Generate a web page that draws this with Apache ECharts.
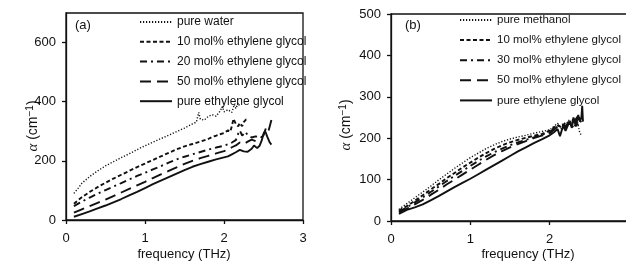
<!DOCTYPE html>
<html>
<head>
<meta charset="utf-8">
<script src="https://cdn.jsdelivr.net/npm/echarts@6/dist/echarts.min.js"></script>
<style>
  html, body { margin: 0; padding: 0; background: #fff; }
  #chart { width: 626px; height: 263px; }
</style>
</head>
<body>
<div id="chart"></div>
<script>
// frequency (THz) / alpha (cm^-1) pairs
const waterA = [[0.10,90],[0.15,106],[0.2,124],[0.3,147],[0.4,166],[0.5,183],[0.6,197],[0.7,211],[0.8,224],[0.9,238],[1.0,251],[1.1,263],[1.2,275],[1.3,287],[1.4,299],[1.5,311],[1.55,318],[1.6,325],[1.65,331],[1.68,364],[1.7,341],[1.75,338],[1.8,350],[1.85,356],[1.9,351],[1.95,368],[1.98,384],[2.0,366],[2.05,373],[2.1,364],[2.13,391],[2.15,377],[2.18,396],[2.2,384]];
const tenA = [[0.1,55],[0.15,66],[0.2,77],[0.3,95],[0.4,111],[0.5,126],[0.6,140],[0.7,153],[0.8,166],[0.9,179],[1.0,191],[1.1,203],[1.2,215],[1.3,227],[1.4,239],[1.5,249],[1.6,257],[1.7,265],[1.8,274],[1.85,281],[1.9,285],[1.95,290],[2.0,294],[2.05,303],[2.08,299],[2.1,318],[2.12,342],[2.15,325],[2.18,317],[2.2,328],[2.23,317],[2.25,331],[2.28,340],[2.3,336]];
const twentyA = [[0.1,47],[0.2,62],[0.3,76],[0.4,89],[0.5,101],[0.6,113],[0.7,125],[0.8,137],[0.9,149],[1.0,160],[1.1,171],[1.2,182],[1.3,194],[1.4,205],[1.5,214],[1.6,222],[1.7,230],[1.8,238],[1.9,245],[2.0,251],[2.05,256],[2.1,262],[2.15,270],[2.18,292],[2.2,303],[2.23,285],[2.27,298],[2.3,287],[2.35,279],[2.4,283],[2.45,280]];
const fiftyA = [[0.1,25],[0.2,36],[0.3,47],[0.4,58],[0.5,69],[0.6,81],[0.7,93],[0.8,105],[0.9,117],[1.0,129],[1.1,142],[1.2,154],[1.3,166],[1.4,178],[1.5,190],[1.6,200],[1.7,209],[1.8,217],[1.9,225],[2.0,233],[2.05,238],[2.1,246],[2.15,252],[2.2,262],[2.25,257],[2.3,265],[2.35,272],[2.4,267],[2.45,275],[2.5,286],[2.53,310],[2.56,298],[2.6,338]];
const egA = [[0.1,11],[0.2,20],[0.3,29],[0.4,39],[0.5,49],[0.6,60],[0.7,71],[0.8,83],[0.9,95],[1.0,108],[1.1,121],[1.2,133],[1.3,145],[1.4,157],[1.5,169],[1.6,180],[1.7,189],[1.8,197],[1.9,205],[2.0,212],[2.05,215],[2.1,222],[2.15,229],[2.2,237],[2.25,232],[2.3,231],[2.35,241],[2.38,252],[2.42,243],[2.45,251],[2.48,271],[2.5,292],[2.52,301],[2.55,280],[2.58,262],[2.6,255]];

const methanolB = [[0.1,28],[0.2,42],[0.3,56],[0.4,70],[0.5,84],[0.6,99],[0.7,113],[0.8,127],[0.9,140],[1.0,153],[1.1,164],[1.2,175],[1.3,184],[1.4,192],[1.5,198],[1.6,203],[1.7,207],[1.8,212],[1.9,216],[2.0,220],[2.05,228],[2.1,236],[2.15,222],[2.2,232],[2.25,245],[2.3,226],[2.35,240],[2.38,212],[2.4,208]];
const tenB = [[0.1,25],[0.2,36],[0.3,49],[0.4,62],[0.5,76],[0.6,89],[0.7,103],[0.8,116],[0.9,129],[1.0,141],[1.1,153],[1.2,164],[1.3,174],[1.4,183],[1.5,190],[1.6,196],[1.7,201],[1.8,206],[1.9,210],[2.0,218],[2.05,225],[2.1,232],[2.15,226],[2.2,238],[2.25,234],[2.3,246],[2.35,232],[2.4,242]];
const thirtyB = [[0.1,23],[0.2,33],[0.3,45],[0.4,57],[0.5,70],[0.6,83],[0.7,96],[0.8,109],[0.9,121],[1.0,133],[1.1,145],[1.2,156],[1.3,166],[1.4,175],[1.5,183],[1.6,190],[1.7,196],[1.8,202],[1.9,208],[2.0,215],[2.05,222],[2.1,229],[2.15,236],[2.2,228],[2.25,240],[2.3,235],[2.35,248],[2.4,238]];
const fiftyB = [[0.1,21],[0.2,30],[0.3,40],[0.4,51],[0.5,63],[0.6,75],[0.7,88],[0.8,100],[0.9,112],[1.0,124],[1.1,136],[1.2,148],[1.3,159],[1.4,169],[1.5,178],[1.6,186],[1.7,193],[1.8,200],[1.9,206],[2.0,212],[2.05,220],[2.1,228],[2.15,234],[2.2,226],[2.25,244],[2.3,238],[2.35,252],[2.4,245]];
const egB = [[0.1,17],[0.15,22],[0.2,27],[0.3,33],[0.4,40],[0.5,50],[0.6,60],[0.7,71],[0.8,82],[0.9,92],[1.0,102],[1.1,113],[1.2,124],[1.3,135],[1.4,146],[1.5,157],[1.6,168],[1.7,178],[1.8,188],[1.9,197],[2.0,207],[2.05,214],[2.1,222],[2.13,205],[2.17,230],[2.2,218],[2.25,240],[2.28,225],[2.3,250],[2.33,228],[2.36,256],[2.38,240],[2.4,250],[2.41,278],[2.42,240]];

const namesA = ['pure water', '10 mol% ethylene glycol', '20 mol% ethylene glycol', '50 mol% ethylene glycol', 'pure ethylene glycol'];
const namesB = ['pure methanol', '10 mol% ethylene glycol', '30 mol% ethylene glycol', '50 mol% ethylene glycol', 'pure ethylene glycol'];
const freqTicks = [0, 1, 2, 3];

const ink = '#111';
const font = 'Liberation Sans, Arial, sans-serif';

// dash patterns: dotted, short dash, dash-dot, long dash, solid
const dashes = [[1.2, 1.8], [4, 2.5], [7, 4, 2, 4], [11, 6], 'solid'];
const widths = [1.4, 1.9, 1.9, 1.9, 1.9];

function line(name, data, i, idx) {
  return {
    name: name,
    type: 'line',
    xAxisIndex: idx,
    yAxisIndex: idx,
    data: data,
    symbol: 'none',
    lineStyle: { color: ink, width: widths[i], type: dashes[i] },
    itemStyle: { color: ink },
    z: 3
  };
}

function xAxis(idx) {
  return {
    type: 'value', gridIndex: idx, min: 0, max: 3, interval: 1,
    axisLine: { lineStyle: { color: ink, width: 1.3 } },
    axisTick: { show: true, inside: false, length: 4, lineStyle: { color: ink, width: 1.3 } },
    axisLabel: { color: ink, fontSize: 13, fontFamily: font, margin: 12,
      formatter: v => freqTicks.indexOf(v) >= 0 ? String(v) : '' },
    splitLine: { show: false }
  };
}

function yAxis(idx, max, step) {
  return {
    type: 'value', gridIndex: idx, min: 0, max: max, interval: step,
    axisLine: { show: true, lineStyle: { color: ink, width: 1.3 } },
    axisTick: { show: true, inside: false, length: 4, lineStyle: { color: ink, width: 1.3 } },
    axisLabel: { color: ink, fontSize: 13, fontFamily: font, margin: 10, showMaxLabel: max % step === 0 },
    splitLine: { show: false }
  };
}

function legend(names, left, top, gap, size) {
  return {
    orient: 'vertical', left: left, top: top, padding: 0,
    data: names, itemWidth: 32, itemHeight: 12, itemGap: gap,
    selectedMode: false,
    itemStyle: { opacity: 0 },
    textStyle: { color: ink, fontSize: size, fontFamily: font }
  };
}

function alphaName(x, y) {
  return {
    type: 'text', x: x, y: y, rotation: Math.PI / 2,
    style: {
      text: '{i|α} (cm{s|−1})', fill: ink, fontSize: 14, fontFamily: font,
      align: 'center', verticalAlign: 'middle',
      rich: {
        i: { fontSize: 15, fontStyle: 'italic', fontFamily: 'Liberation Serif, serif', fill: ink },
        s: { fontSize: 10, verticalAlign: 'top', fill: ink, fontFamily: font }
      }
    }
  };
}

function freqName(x, y) {
  return {
    type: 'text', x: x, y: y,
    style: { text: 'frequency (THz)', fill: ink, fontSize: 13, fontFamily: font, align: 'center', verticalAlign: 'middle' }
  };
}

const seriesA = [waterA, tenA, twentyA, fiftyA, egA];
const seriesB = [methanolB, tenB, thirtyB, fiftyB, egB];

const chart = echarts.init(document.getElementById('chart'), null, { renderer: 'canvas' });

const option = {
  animation: false,
  backgroundColor: '#fff',
  textStyle: { fontFamily: font },
  grid: [
    { left: 66, top: 13, right: 323, bottom: 43, outerBoundsMode: 'none', containLabel: false,
      show: true, borderColor: ink, borderWidth: 1.3, backgroundColor: 'transparent' },
    { left: 391, top: 14, right: -3, bottom: 42, outerBoundsMode: 'none', containLabel: false,
      show: true, borderColor: ink, borderWidth: 1.3, backgroundColor: 'transparent' }
  ],
  xAxis: [xAxis(0), xAxis(1)],
  yAxis: [yAxis(0, 700, 200), yAxis(1, 500, 100)],
  legend: [legend(namesA, 139, 16, 7.8, 12), legend(namesB, 459, 14, 8.1, 11.5)],
  graphic: [
    { type: 'text', left: 75, top: 19, style: { text: '(a)', fill: ink, font: '13px ' + font } },
    { type: 'text', left: 405, top: 19, style: { text: '(b)', fill: ink, font: '13px ' + font } },
    alphaName(33, 126),
    alphaName(346, 125),
    freqName(184, 254),
    freqName(528, 254)
  ],
  series: seriesA.map((d, i) => line(namesA[i], d, i, 0))
    .concat(seriesB.map((d, i) => line(namesB[i], d, i, 1)))
};

chart.setOption(option);
</script>
</body>
</html>
